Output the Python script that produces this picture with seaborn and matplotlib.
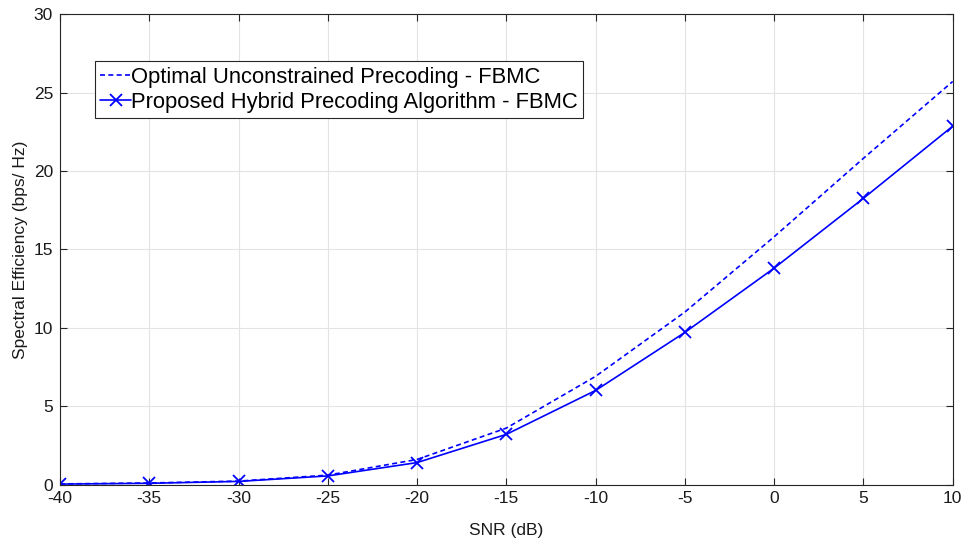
import matplotlib
matplotlib.use("Agg")
import matplotlib.pyplot as plt
import seaborn as sns
import pandas as pd

snr_db = [-40, -35, -30, -25, -20, -15, -10, -5, 0, 5, 10]
optimal = [0.04, 0.1, 0.22, 0.6, 1.6, 3.6, 6.9, 11.0, 15.8, 20.8, 25.7]
hybrid = [0.03, 0.08, 0.2, 0.55, 1.4, 3.2, 6.0, 9.7, 13.8, 18.25, 22.85]
label_opt = "Optimal Unconstrained Precoding - FBMC"
label_hyb = "Proposed Hybrid Precoding Algorithm - FBMC"

sns.set_theme(style="whitegrid")
plt.rcParams['font.family'] = ['Liberation Sans', 'DejaVu Sans']

fig = plt.figure(figsize=(9.65, 5.42), dpi=100)
ax = fig.add_axes([0.0622, 0.106, 0.925, 0.868])

df_opt = pd.DataFrame({"snr": snr_db, "se": optimal})
df_hyb = pd.DataFrame({"snr": snr_db, "se": hybrid})
sns.lineplot(data=df_opt, x="snr", y="se", ax=ax, color="#0000ff", linestyle=(0, (3, 2)),
             linewidth=1.2, label=label_opt)
sns.lineplot(data=df_hyb, x="snr", y="se", ax=ax, color="#0000ff", linestyle="-",
             linewidth=1.2, marker="x", markersize=9, markeredgewidth=1.3,
             markeredgecolor="#0000ff", markerfacecolor="#0000ff", label=label_hyb)

ax.set_xlim(-40, 10)
ax.set_ylim(0, 30)
ax.set_xticks(snr_db)
ax.set_yticks([0, 5, 10, 15, 20, 25, 30])
ax.set_xticklabels([str(v) for v in snr_db])
ax.set_facecolor("white")
ax.grid(True, color="#e3e3e3", linewidth=0.8)
for s in ax.spines.values():
    s.set_visible(True)
    s.set_color("#262626")
    s.set_linewidth(0.8)
ax.tick_params(axis="both", direction="in", length=5, width=0.8, color="#262626",
               labelsize=12.5, labelcolor="#1a1a1a", top=True, right=True, bottom=True, left=True)
ax.tick_params(axis="x", pad=5)
ax.tick_params(axis="y", pad=5)
ax.set_xlabel("SNR (dB)", fontsize=12.5, color="#1a1a1a", labelpad=12)
ax.set_ylabel("Spectral Efficiency (bps/ Hz)", fontsize=12.5, color="#1a1a1a", labelpad=4)

leg = ax.legend(loc="upper left", bbox_to_anchor=(0.039, 0.9), fontsize=15.8, frameon=True,
                fancybox=False, edgecolor="#262626", framealpha=1, handlelength=1.4,
                handletextpad=0.0, borderpad=0.25, labelspacing=0.2, borderaxespad=0)
leg.get_frame().set_linewidth(0.8)
for t in leg.get_texts():
    t.set_color("black")

fig.savefig("out.png", dpi=100, facecolor="white")
